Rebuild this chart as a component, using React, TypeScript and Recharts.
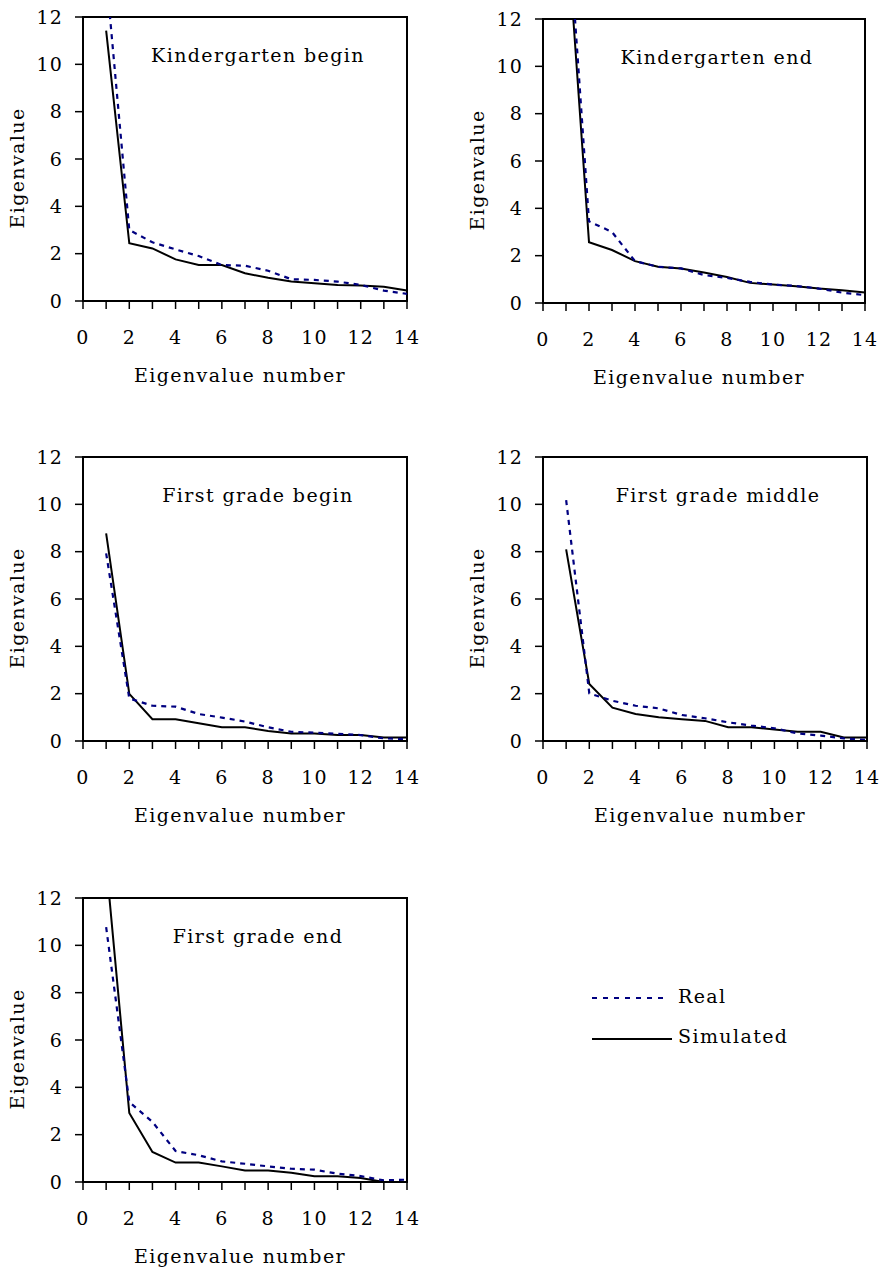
import { LineChart, Line, XAxis, YAxis, ReferenceArea } from "recharts";

// eigenvalue number (x) and per-panel eigenvalues
const eigenNumber = [1, 2, 3, 4, 5, 6, 7, 8, 9, 10, 11, 12, 13, 14];

const kgBeginReal = [13.8, 3.0, 2.48, 2.18, 1.9, 1.52, 1.49, 1.28, 0.92, 0.89, 0.82, 0.68, 0.44, 0.3];
const kgBeginSim = [11.42, 2.44, 2.22, 1.76, 1.52, 1.52, 1.17, 0.98, 0.82, 0.75, 0.68, 0.66, 0.6, 0.44];

const kgEndReal = [17.5, 3.45, 3.0, 1.77, 1.53, 1.46, 1.18, 1.06, 0.89, 0.78, 0.72, 0.61, 0.44, 0.33];
const kgEndSim = [16.4, 2.57, 2.24, 1.77, 1.53, 1.46, 1.29, 1.1, 0.85, 0.78, 0.71, 0.61, 0.54, 0.44];

const g1BeginReal = [7.93, 1.8, 1.49, 1.45, 1.14, 0.99, 0.82, 0.58, 0.39, 0.35, 0.3, 0.25, 0.11, 0.08];
const g1BeginSim = [8.77, 1.99, 0.92, 0.92, 0.75, 0.58, 0.58, 0.42, 0.32, 0.32, 0.25, 0.25, 0.15, 0.15];

const g1MiddleReal = [10.18, 2.01, 1.7, 1.49, 1.38, 1.1, 0.96, 0.79, 0.65, 0.54, 0.32, 0.23, 0.11, 0.04];
const g1MiddleSim = [8.1, 2.41, 1.41, 1.14, 1.0, 0.92, 0.85, 0.58, 0.58, 0.49, 0.39, 0.39, 0.15, 0.15];

const g1EndReal = [10.77, 3.38, 2.54, 1.31, 1.13, 0.87, 0.77, 0.66, 0.56, 0.52, 0.35, 0.25, 0.07, 0.1];
const g1EndSim = [13.5, 2.92, 1.27, 0.82, 0.82, 0.66, 0.49, 0.49, 0.39, 0.24, 0.24, 0.17, 0, 0];

const xTicks = [0, 1, 2, 3, 4, 5, 6, 7, 8, 9, 10, 11, 12, 13, 14];
const yTicks = [0, 2, 4, 6, 8, 10, 12];

const FONT = "'DejaVu Serif', serif";
const NAVY = "#000080";
const CHART_W = 420;
const CHART_H = 390;
const AXIS_W = 83;
const PLOT_TOP = 17;
const PLOT_H = 284;

const tickStyle = { fill: "#000", fontSize: 19, fontFamily: FONT, letterSpacing: 1.2 };
const labelStyle = { fill: "#000", fontSize: 19, fontFamily: FONT, letterSpacing: 1.4 };

function Panel({ title, real, sim, left, top, plotWidth }: {
  title: string; real: number[]; sim: number[]; left: number; top: number; plotWidth: number;
}) {
  const data = eigenNumber.map((n, i) => ({ n, real: real[i], sim: sim[i] }));
  const midX = AXIS_W + plotWidth / 2;

  return (
    <div style={{ position: "absolute", left, top, width: CHART_W, height: CHART_H }}>
      <LineChart
        width={CHART_W}
        height={CHART_H}
        data={data}
        margin={{ top: PLOT_TOP, right: CHART_W - AXIS_W - plotWidth, bottom: CHART_H - PLOT_TOP - PLOT_H - 85, left: 0 }}
      >
        <XAxis
          dataKey="n"
          type="number"
          domain={[0, 14]}
          ticks={xTicks}
          interval={0}
          height={85}
          tickSize={8}
          tickMargin={22}
          tickFormatter={(v) => (v % 2 === 0 ? String(v) : "")}
          tick={tickStyle}
          axisLine={{ stroke: "#000", strokeWidth: 2 }}
          tickLine={{ stroke: "#000", strokeWidth: 1.5 }}
          label={() => (
            <text x={midX - 5} y={PLOT_TOP + PLOT_H + 81} textAnchor="middle" style={labelStyle}>
              Eigenvalue number
            </text>
          )}
        />
        <YAxis
          type="number"
          domain={[0, 12]}
          allowDataOverflow
          ticks={yTicks}
          interval={0}
          width={AXIS_W}
          tickSize={8}
          tickMargin={12}
          tick={tickStyle}
          axisLine={{ stroke: "#000", strokeWidth: 2 }}
          tickLine={{ stroke: "#000", strokeWidth: 1.5 }}
          label={() => (
            <text x={24} y={168} transform="rotate(-90, 24, 168)" textAnchor="middle" style={labelStyle}>
              Eigenvalue
            </text>
          )}
        />
        <ReferenceArea
          x1={0}
          x2={14}
          y1={0}
          y2={12}
          fill="none"
          stroke="#000"
          strokeWidth={2}
          label={() => (
            <text x={midX + 13} y={62} textAnchor="middle" style={labelStyle}>
              {title}
            </text>
          )}
        />
        <Line dataKey="sim" stroke="#000" strokeWidth={2} dot={false} isAnimationActive={false} />
        <Line dataKey="real" stroke={NAVY} strokeWidth={2.2} strokeDasharray="5 5" dot={false} isAnimationActive={false} />
      </LineChart>
    </div>
  );
}

export default function App() {
  return (
    <div style={{ position: "absolute", left: 0, top: 0, width: 885, height: 1271, background: "#fff" }}>
      <Panel title="Kindergarten begin" real={kgBeginReal} sim={kgBeginSim} left={0} top={0} plotWidth={324} />
      <Panel title="Kindergarten end" real={kgEndReal} sim={kgEndSim} left={460} top={2} plotWidth={322} />
      <Panel title="First grade begin" real={g1BeginReal} sim={g1BeginSim} left={0} top={440} plotWidth={324} />
      <Panel title="First grade middle" real={g1MiddleReal} sim={g1MiddleSim} left={460} top={440} plotWidth={324} />
      <Panel title="First grade end" real={g1EndReal} sim={g1EndSim} left={0} top={881} plotWidth={324} />

      <svg style={{ position: "absolute", left: 560, top: 970 }} width={260} height={90}>
        <line x1={32} y1={28} x2={108} y2={28} stroke={NAVY} strokeWidth={2} strokeDasharray="5 6" />
        <text x={118} y={33} style={labelStyle}>Real</text>
        <line x1={32} y1={69} x2={112} y2={69} stroke="#000" strokeWidth={2} />
        <text x={118} y={73} style={labelStyle}>Simulated</text>
      </svg>
    </div>
  );
}
